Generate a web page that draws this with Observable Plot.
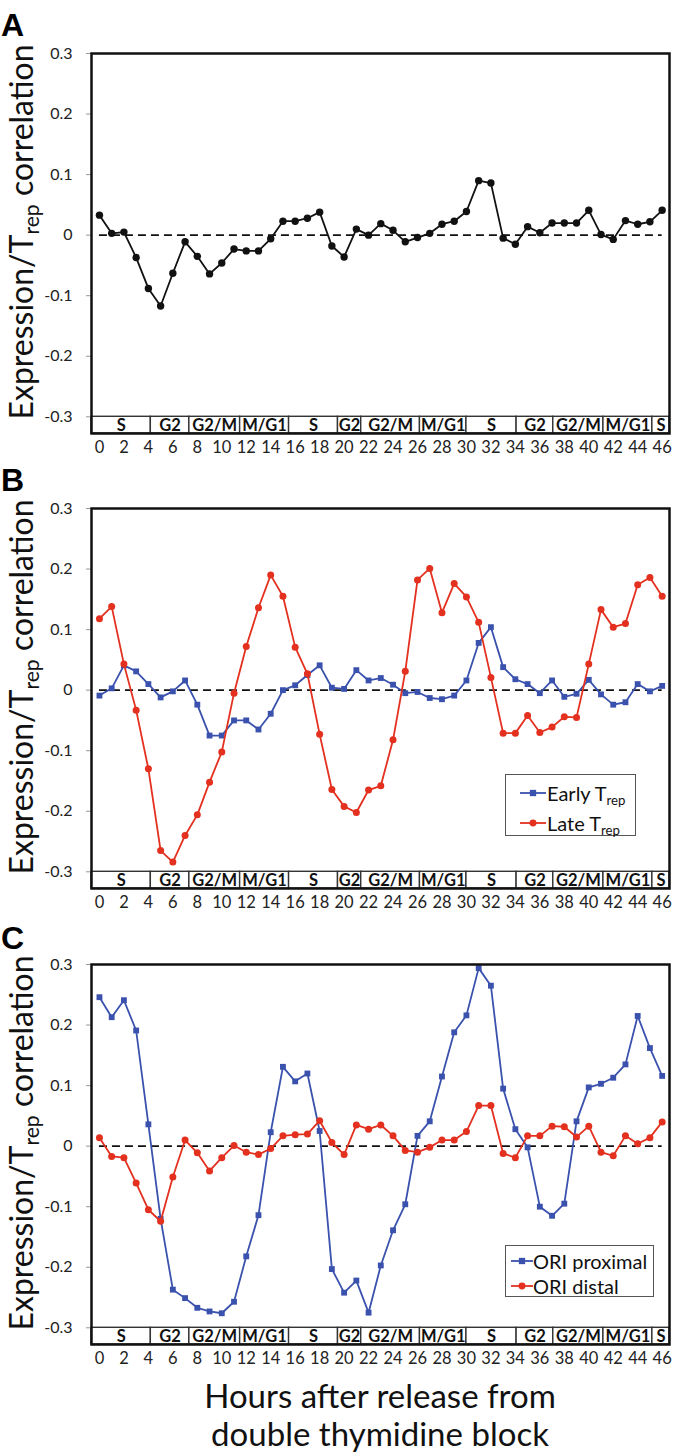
<!DOCTYPE html>
<html><head><meta charset="utf-8">
<script src="https://cdn.jsdelivr.net/npm/d3@7"></script>
<script src="https://cdn.jsdelivr.net/npm/@observablehq/plot@0.6"></script>
<style>
body{margin:0;background:#fff;}
#wrap{position:relative;width:685px;height:1454px;font-family:Lato,sans-serif;color:#111;overflow:hidden;background:#fff}
.panel{position:absolute;left:0}
.letter{position:absolute;left:1px;font-family:"Liberation Sans",Arial,sans-serif;font-weight:bold;font-size:32px;line-height:1;color:#000}
.ylab{position:absolute;left:-199px;width:440px;height:42px;line-height:42px;text-align:center;font-size:32px;transform:rotate(-90deg);white-space:nowrap;color:#111}
.sub{font-size:0.66em;vertical-align:-0.28em}
.legend{position:absolute;box-sizing:border-box;border:1.3px solid #555;background:#fff;font-size:20px;color:#111}
.legend .row{position:absolute;left:0;height:24px;line-height:24px;white-space:nowrap}
.legend svg{position:absolute;top:6px}
.legend .txt{position:absolute;top:0}
.xtitle{position:absolute;left:91px;width:578px;text-align:center;font-size:33px;line-height:38px;color:#111}
</style></head>
<body><div id="wrap"></div>
<script>
const hours = [0,1,2,3,4,5,6,7,8,9,10,11,12,13,14,15,16,17,18,19,20,21,22,23,24,25,26,27,28,29,30,31,32,33,34,35,36,37,38,39,40,41,42,43,44,45,46];
const xTickValues = [0,2,4,6,8,10,12,14,16,18,20,22,24,26,28,30,32,34,36,38,40,42,44,46];
const yTickValues = [-0.3,-0.2,-0.1,0,0.1,0.2,0.3];
const yTickLabels = ["-0.3","-0.2","-0.1","0","0.1","0.2","0.3"];
const phaseNames = ["S","G2","G2/M","M/G1","S","G2","G2/M","M/G1","S","G2","G2/M","M/G1","S"];
const phaseBreaks = [4.2,7.35,11.5,15.5,19.5,21.4,26.2,30.0,34.1,37.1,41.2,45.2];

const allGenes = [0.033,0.003,0.005,-0.037,-0.088,-0.117,-0.063,-0.011,-0.035,-0.064,-0.046,-0.023,-0.026,-0.026,-0.006,0.023,0.023,0.028,0.038,-0.018,-0.036,0.010,0.000,0.019,0.008,-0.011,-0.004,0.003,0.018,0.023,0.039,0.090,0.086,-0.005,-0.015,0.014,0.004,0.020,0.020,0.020,0.041,0.001,-0.007,0.024,0.018,0.022,0.041];

const earlyTrep = [-0.009,0.003,0.041,0.031,0.010,-0.012,-0.002,0.016,-0.024,-0.075,-0.075,-0.050,-0.050,-0.065,-0.039,0.000,0.008,0.025,0.041,0.004,0.002,0.033,0.016,0.020,0.009,-0.005,-0.003,-0.013,-0.015,-0.009,0.016,0.078,0.104,0.038,0.018,0.010,-0.005,0.016,-0.011,-0.006,0.017,-0.007,-0.024,-0.020,0.010,-0.002,0.007];
const lateTrep = [0.118,0.138,0.043,-0.033,-0.130,-0.265,-0.284,-0.240,-0.206,-0.152,-0.102,-0.005,0.072,0.136,0.190,0.155,0.071,0.027,-0.073,-0.164,-0.192,-0.202,-0.165,-0.158,-0.082,0.031,0.182,0.201,0.128,0.176,0.154,0.112,0.021,-0.071,-0.071,-0.042,-0.070,-0.061,-0.044,-0.045,0.043,0.133,0.104,0.110,0.174,0.186,0.155];

const oriProximal = [0.246,0.213,0.241,0.191,0.036,-0.120,-0.237,-0.251,-0.267,-0.273,-0.276,-0.257,-0.182,-0.114,0.023,0.131,0.107,0.120,0.025,-0.203,-0.242,-0.222,-0.275,-0.197,-0.139,-0.096,0.017,0.041,0.115,0.188,0.216,0.294,0.265,0.095,0.028,-0.002,-0.100,-0.115,-0.095,0.041,0.097,0.103,0.113,0.135,0.215,0.162,0.116];
const oriDistal = [0.014,-0.017,-0.019,-0.061,-0.105,-0.124,-0.051,0.010,-0.011,-0.041,-0.019,0.001,-0.010,-0.014,-0.004,0.017,0.019,0.020,0.042,0.006,-0.014,0.035,0.028,0.035,0.017,-0.007,-0.010,-0.002,0.010,0.010,0.024,0.067,0.067,-0.012,-0.019,0.017,0.017,0.033,0.032,0.015,0.033,-0.010,-0.016,0.017,0.004,0.014,0.040];

const BLUE = "#3a52ad", RED = "#e3301f", BLACK = "#111";

const xDom = [-0.65, 46.6];
const yBottom = -0.3276;

function makePanel(series){
  const segs = phaseNames.map((n,i)=>({
    name:n,
    x1: i===0 ? xDom[0] : phaseBreaks[i-1],
    x2: i===phaseNames.length-1 ? xDom[1] : phaseBreaks[i]
  }));
  const marks = [
    Plot.rect(segs,{x1:"x1",x2:"x2",y1:yBottom,y2:-0.3,fill:"white",stroke:"#333",strokeWidth:1.4}),
    Plot.text(segs,{x:d=>(d.x1+d.x2)/2,y:(yBottom-0.3)/2,dy:1,text:"name",fontWeight:"bold",fontSize:16.5,fill:"#111"}),
    Plot.ruleY([0],{x1:0,x2:46,stroke:"#111",strokeWidth:1.6,strokeDasharray:"8,5"})
  ];
  for(const s of series){
    const rows = hours.map((h,i)=>({h, v:s.values[i]}));
    marks.push(Plot.line(rows,{x:"h",y:"v",stroke:s.color,strokeWidth:1.8}));
    marks.push(Plot.dot(rows,{x:"h",y:"v",fill:s.color,stroke:"none",r:s.r,symbol:s.symbol}));
  }
  marks.push(Plot.axisX(xTickValues,{tickSize:0,tickPadding:8,fontSize:16.5,label:null,fill:"#222"}));
  marks.push(Plot.axisY(yTickValues,{tickSize:5,tickPadding:14,fontSize:16,label:null,stroke:"#999",fill:"#222",
    tickFormat:d=>yTickLabels[yTickValues.findIndex(v=>Math.abs(v-d)<1e-9)]}));
  marks.push(Plot.frame({stroke:"#111",strokeWidth:2.5}));
  return Plot.plot({
    width:685,height:455,marginLeft:91,marginRight:16,marginTop:53,marginBottom:22,
    x:{domain:xDom},y:{domain:[yBottom,0.3]},
    style:{fontFamily:"Lato, sans-serif",background:"transparent",overflow:"visible"},
    marks
  });
}

const wrap = document.getElementById("wrap");
const panels = [
  {top:0, letter:"A", letterTop:9, series:[{values:allGenes,color:BLACK,r:3.7,symbol:"circle"}]},
  {top:455, letter:"B", letterTop:464, series:[{values:earlyTrep,color:BLUE,r:3.3,symbol:"square",name:"Early"},{values:lateTrep,color:RED,r:3.5,symbol:"circle",name:"Late"}],
    legend:{left:505,top:774,width:131,height:62,rows:[18,48],swLeft:14,swW:26,txtLeft:41}},
  {top:911, letter:"C", letterTop:922, series:[{values:oriProximal,color:BLUE,r:3.3,symbol:"square",name:"ORI proximal"},{values:oriDistal,color:RED,r:3.5,symbol:"circle",name:"ORI distal"}],
    legend:{left:505,top:1245,width:149,height:52,rows:[15,40],swLeft:5,swW:22,txtLeft:27}}
];

for(const p of panels){
  const chart = makePanel(p.series);
  chart.classList.add("panel");
  chart.style.top = p.top+"px";
  wrap.appendChild(chart);
  const L = document.createElement("div");
  L.className="letter"; L.style.top=p.letterTop+"px"; L.textContent=p.letter;
  wrap.appendChild(L);
  const Y = document.createElement("div");
  Y.className="ylab"; Y.style.top=(p.top+232-21)+"px";
  Y.innerHTML = 'Expression/T<span class="sub">rep</span> correlation';
  wrap.appendChild(Y);
  if(p.legend){
    const g = p.legend;
    const box = document.createElement("div");
    box.className="legend";
    Object.assign(box.style,{left:g.left+"px",top:g.top+"px",width:g.width+"px",height:g.height+"px"});
    p.series.forEach((s,i)=>{
      const row = document.createElement("div");
      row.className="row"; row.style.top=(g.rows[i]-12)+"px"; row.style.width="100%";
      const sw = d3.create("svg").attr("width",g.swW).attr("height",12).style("left",g.swLeft+"px");
      sw.append("line").attr("x1",0).attr("x2",g.swW).attr("y1",6).attr("y2",6).attr("stroke",s.color).attr("stroke-width",1.8);
      sw.append("path").attr("transform",`translate(${g.swW/2},6)`)
        .attr("d",d3.symbol(s.symbol==="square"?d3.symbolSquare:d3.symbolCircle, s.symbol==="square"?40:38)()).attr("fill",s.color);
      row.appendChild(sw.node());
      const t = document.createElement("span");
      t.className="txt"; t.style.left=g.txtLeft+"px";
      t.innerHTML = s.name==="Early"||s.name==="Late" ? s.name+' T<span class="sub">rep</span>' : s.name;
      row.appendChild(t);
      box.appendChild(row);
    });
    wrap.appendChild(box);
  }
}
const xt = document.createElement("div");
xt.className="xtitle"; xt.style.top="1376px";
xt.innerHTML = "Hours after release from<br>double thymidine block";
wrap.appendChild(xt);
</script>
</body></html>
